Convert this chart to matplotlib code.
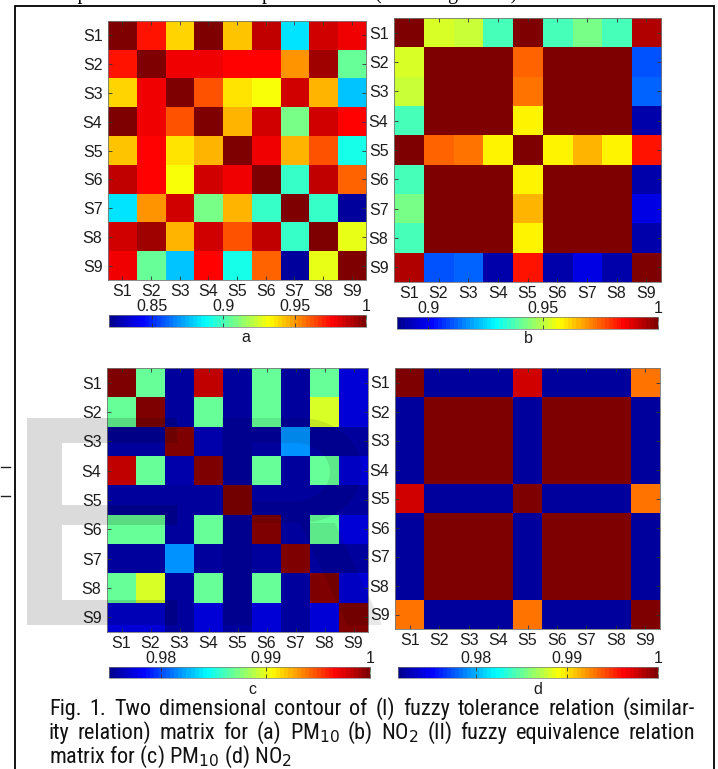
import numpy as np
import matplotlib
matplotlib.use('Agg')
import matplotlib.pyplot as plt
from matplotlib.colors import LinearSegmentedColormap
from matplotlib.patches import PathPatch, Rectangle
from matplotlib.path import Path
from matplotlib.lines import Line2D
from matplotlib import font_manager as fm

# ---------------- data ----------------
stations = ['S1', 'S2', 'S3', 'S4', 'S5', 'S6', 'S7', 'S8', 'S9']

# (a) fuzzy tolerance relation, PM10
tol_pm10 = [
    [1.000, 0.972, 0.940, 1.000, 0.943, 0.988, 0.883, 0.985, 0.978],
    [0.972, 1.000, 0.978, 0.978, 0.975, 0.975, 0.952, 0.993, 0.905],
    [0.940, 0.978, 1.000, 0.962, 0.936, 0.930, 0.984, 0.946, 0.878],
    [1.000, 0.978, 0.962, 1.000, 0.946, 0.984, 0.909, 0.985, 0.975],
    [0.943, 0.975, 0.936, 0.946, 1.000, 0.979, 0.945, 0.962, 0.893],
    [0.988, 0.975, 0.930, 0.984, 0.979, 1.000, 0.898, 0.988, 0.958],
    [0.883, 0.952, 0.984, 0.909, 0.945, 0.898, 1.000, 0.898, 0.824],
    [0.985, 0.993, 0.946, 0.985, 0.962, 0.988, 0.898, 1.000, 0.928],
    [0.978, 0.905, 0.878, 0.975, 0.893, 0.958, 0.824, 0.928, 1.000],
]

# (b) fuzzy tolerance relation, NO2
tol_no2 = [
    [1.000, 0.953, 0.951, 0.937, 1.000, 0.937, 0.943, 0.937, 0.993],
    [0.953, 1.000, 1.000, 1.000, 0.974, 1.000, 1.000, 1.000, 0.911],
    [0.951, 1.000, 1.000, 1.000, 0.973, 1.000, 1.000, 1.000, 0.912],
    [0.937, 1.000, 1.000, 1.000, 0.959, 1.000, 1.000, 1.000, 0.891],
    [1.000, 0.974, 0.973, 0.959, 1.000, 0.959, 0.966, 0.959, 0.984],
    [0.937, 1.000, 1.000, 1.000, 0.959, 1.000, 1.000, 1.000, 0.891],
    [0.943, 1.000, 1.000, 1.000, 0.966, 1.000, 1.000, 1.000, 0.898],
    [0.937, 1.000, 1.000, 1.000, 0.959, 1.000, 1.000, 1.000, 0.891],
    [0.993, 0.911, 0.912, 0.891, 0.984, 0.891, 0.898, 0.891, 1.000],
]

# (c) fuzzy equivalence relation, PM10
eq_pm10 = [
    [1.0000, 0.9870, 0.9757, 0.9983, 0.9757, 0.9870, 0.9757, 0.9870, 0.9773],
    [0.9870, 1.0000, 0.9757, 0.9870, 0.9757, 0.9870, 0.9757, 0.9895, 0.9773],
    [0.9757, 0.9757, 1.0000, 0.9760, 0.9757, 0.9757, 0.9820, 0.9757, 0.9757],
    [0.9983, 0.9870, 0.9760, 1.0000, 0.9757, 0.9870, 0.9757, 0.9870, 0.9773],
    [0.9757, 0.9757, 0.9757, 0.9757, 1.0000, 0.9757, 0.9757, 0.9757, 0.9757],
    [0.9870, 0.9870, 0.9757, 0.9870, 0.9757, 1.0000, 0.9757, 0.9870, 0.9773],
    [0.9757, 0.9757, 0.9820, 0.9757, 0.9757, 0.9757, 1.0000, 0.9757, 0.9757],
    [0.9870, 0.9895, 0.9757, 0.9870, 0.9757, 0.9870, 0.9757, 1.0000, 0.9773],
    [0.9773, 0.9773, 0.9757, 0.9773, 0.9757, 0.9773, 0.9757, 0.9773, 1.0000],
]

# (d) fuzzy equivalence relation, NO2
eq_no2 = [
    [1.0000, 0.9720, 0.9720, 0.9720, 0.9977, 0.9720, 0.9720, 0.9720, 0.9932],
    [0.9720, 1.0000, 1.0000, 1.0000, 0.9720, 1.0000, 1.0000, 1.0000, 0.9720],
    [0.9720, 1.0000, 1.0000, 1.0000, 0.9720, 1.0000, 1.0000, 1.0000, 0.9720],
    [0.9720, 1.0000, 1.0000, 1.0000, 0.9720, 1.0000, 1.0000, 1.0000, 0.9720],
    [0.9977, 0.9720, 0.9720, 0.9720, 1.0000, 0.9720, 0.9720, 0.9720, 0.9932],
    [0.9720, 1.0000, 1.0000, 1.0000, 0.9720, 1.0000, 1.0000, 1.0000, 0.9720],
    [0.9720, 1.0000, 1.0000, 1.0000, 0.9720, 1.0000, 1.0000, 1.0000, 0.9720],
    [0.9720, 1.0000, 1.0000, 1.0000, 0.9720, 1.0000, 1.0000, 1.0000, 0.9720],
    [0.9932, 0.9720, 0.9720, 0.9720, 0.9932, 0.9720, 0.9720, 0.9720, 1.0000],
]

color_ranges = [(0.820, 1.0), (0.8865, 1.0), (0.975, 1.0), (0.9715, 1.0)]
cbar_ticks = [[0.85, 0.9, 0.95, 1.0], [0.9, 0.95, 1.0], [0.98, 0.99, 1.0], [0.98, 0.99, 1.0]]
cbar_ticklabels = [['0.85', '0.9', '0.95', '1'], ['0.9', '0.95', '1'],
                   ['0.98', '0.99', '1'], ['0.98', '0.99', '1']]
panel_letters = ['a', 'b', 'c', 'd']

caption_lines = [
    "Fig. 1. Two dimensional contour of (I) fuzzy tolerance relation (similar-",
    r"ity relation) matrix for (a) PM$_\mathrm{10}$ (b) NO$_\mathrm{2}$ (II) fuzzy equivalence relation",
    r"matrix for (c) PM$_\mathrm{10}$ (d) NO$_\mathrm{2}$",
]

# ---------------- caption font: prefer a narrow sans ----------------
entries = fm.fontManager.ttflist


def _is_regular(f):
    return f.style == 'normal' and str(f.weight) in ('400', 'normal', 'regular', 'book')


chosen = None
for name in ['Liberation Sans Narrow', 'Arial Narrow', 'Nimbus Sans Narrow',
             'DejaVu Sans Condensed', 'Roboto Condensed', 'Noto Sans Condensed',
             'Open Sans Condensed']:
    for f in entries:
        if f.name == name and _is_regular(f):
            chosen = f
            break
    if chosen:
        break
if chosen is None:
    for f in entries:
        n = f.name.lower()
        if (f.stretch == 'condensed' and _is_regular(f) and 'sans' in n
                and 'mono' not in n and 'extra' not in f.fname.lower()
                and 'cjk' not in n):
            chosen = f
            break
if chosen is not None:
    cap_fp = fm.FontProperties(fname=chosen.fname)
    math_family = chosen.name
else:
    cap_fp = fm.FontProperties(family=['Liberation Sans', 'DejaVu Sans'])
    math_family = 'Liberation Sans'

# ---------------- figure ----------------
W, H = 718, 769
plt.rcParams['font.family'] = ['Liberation Sans', 'DejaVu Sans']
plt.rcParams['mathtext.fontset'] = 'custom'
plt.rcParams['mathtext.rm'] = math_family
plt.rcParams['mathtext.it'] = math_family + ':italic'
plt.rcParams['mathtext.bf'] = math_family + ':bold'

fig = plt.figure(figsize=(W / 100, H / 100), dpi=100)
fig.patch.set_facecolor('white')

jet = LinearSegmentedColormap.from_list(
    'matlab_jet',
    [(0.0, (0, 0, 0.5625)), (0.125, (0, 0, 1)), (0.375, (0, 1, 1)),
     (0.625, (1, 1, 0)), (0.875, (1, 0, 0)), (1.0, (0.5, 0, 0))], N=64)


def ax_px(x0, y0, x1, y1):
    return fig.add_axes([x0 / W, 1 - y1 / H, (x1 - x0) / W, (y1 - y0) / H])


heat_boxes = [(108, 21, 366, 280), (394, 18, 661, 282),
              (107, 368, 368, 632), (395, 368, 660, 629)]
cbar_boxes = [(109, 315, 366, 327), (397, 317, 658, 329),
              (109, 667, 370, 678), (398, 667, 658, 678)]
letter_pos = [(246, 338), (528, 339), (252, 689), (538, 689)]

matrices = [tol_pm10, tol_no2, eq_pm10, eq_no2]
txtcol = '#1c1c1c'

for i, M in enumerate(matrices):
    ax = ax_px(*heat_boxes[i])
    vmin, vmax = color_ranges[i]
    im = ax.imshow(np.array(M), cmap=jet, vmin=vmin, vmax=vmax,
                   aspect='auto', interpolation='nearest')
    ax.set_xticks(range(len(stations)))
    ax.set_yticks(range(len(stations)))
    ax.set_xticklabels(stations)
    ax.set_yticklabels(stations)
    ax.tick_params(direction='in', length=3, width=0.6, color='#333333',
                   top=True, right=True, labelsize=11.5, labelcolor=txtcol, pad=4)
    ax.tick_params(axis='x', pad=3)
    for s in ax.spines.values():
        s.set_linewidth(0.6)
        s.set_color('#777777')

    cax = ax_px(*cbar_boxes[i])
    cb = fig.colorbar(im, cax=cax, orientation='horizontal', ticks=cbar_ticks[i])
    cb.ax.set_xticklabels(cbar_ticklabels[i])
    cax.tick_params(axis='x', direction='in', length=3, width=0.6, color='#333333',
                    top=True, bottom=True, labeltop=True, labelbottom=False,
                    labelsize=11.5, labelcolor=txtcol, pad=0.5)
    cb.outline.set_linewidth(0.5)
    cb.outline.set_edgecolor('#777777')

    lx, ly = letter_pos[i]
    fig.text(lx / W, 1 - ly / H, panel_letters[i], ha='center', va='center',
             fontsize=11.5, color=txtcol)

# ---------------- caption (justified) ----------------
renderer = fig.canvas.get_renderer()
baselines = [715, 739, 763]
x_left, x_right = 49, 695


def word_widths(words, size):
    fp = cap_fp.copy()
    fp.set_size(size)
    out = []
    for w in words:
        t = fig.text(0, 0, w, fontproperties=fp)
        out.append(t.get_window_extent(renderer).width)
        t.remove()
    return out


# choose the largest size (up to 16pt) at which justified lines keep normal gaps
cap_size = 16.0
for line in caption_lines[:2]:
    words = line.split(' ')
    wsum = sum(word_widths(words, 10.0))
    min_gap = 5.0
    fit = 10.0 * (x_right - x_left - min_gap * (len(words) - 1)) / wsum
    cap_size = min(cap_size, fit)

fpc = cap_fp.copy()
fpc.set_size(cap_size)
for li, line in enumerate(caption_lines):
    yb = 1 - baselines[li] / H
    if li < 2:
        words = line.split(' ')
        tx = [fig.text(0, yb, w, ha='left', va='baseline', fontproperties=fpc,
                       color='#111111') for w in words]
        widths = [t.get_window_extent(renderer).width for t in tx]
        gap = (x_right - x_left - sum(widths)) / (len(words) - 1)
        x = x_left
        for t, wdt in zip(tx, widths):
            t.set_x(x / W)
            x += wdt + gap
    else:
        fig.text(x_left / W, yb, line, ha='left', va='baseline', fontproperties=fpc,
                 color='#111111')

# ---------------- page decorations ----------------
# frame around the figure
fig.add_artist(Rectangle((15 / W, -0.01), (714 - 15) / W, 1.01 - 6 / H,
                         transform=fig.transFigure, fill=False,
                         edgecolor='black', linewidth=1.3, zorder=10))

# cut-off running text above the frame
for xs, s in [(43, 'comparison of the'), (262, 'plots'),
              (375, '(on the right side)')]:
    fig.text(xs / W, 1 + 1.5 / H, s, ha='left', va='baseline', fontsize=14.4,
             family=['Liberation Serif', 'DejaVu Serif'], color='black')

# small marks left of the frame
for yy in (467, 496):
    fig.add_artist(Line2D([1 / W, 10 / W], [1 - yy / H, 1 - yy / H],
                          transform=fig.transFigure, color='#222222', lw=1.0))


# watermark (semi-transparent grey letters)
def P(x, y):
    return (x / W, 1 - y / H)


E_pts = [(27, 418), (177, 418), (177, 443), (62, 443), (62, 505), (177, 505),
         (177, 525), (62, 525), (62, 600), (177, 600), (177, 625), (27, 625), (27, 418)]
fig.add_artist(PathPatch(Path([P(*p) for p in E_pts]), transform=fig.transFigure,
                         facecolor='black', edgecolor='none', alpha=0.14, zorder=20))

theta = np.linspace(np.pi / 2, -np.pi / 2, 30)
outer = [(222, 418), (300, 418)] + \
        [(300 + 62 * np.cos(t), 470.5 - 52.5 * np.sin(t)) for t in theta] + \
        [(252, 523), (252, 625), (222, 625), (222, 418)]
hole = [(252, 443), (295, 443)] + \
       [(295 + 35 * np.cos(t), 472 - 29 * np.sin(t)) for t in theta] + \
       [(252, 501), (252, 443)]
leg = [(300, 523), (335, 523), (382, 625), (347, 625), (300, 523)]
verts = [P(*p) for p in outer] + [P(*p) for p in hole[::-1]]
codes = [Path.MOVETO] + [Path.LINETO] * (len(outer) - 2) + [Path.CLOSEPOLY] + \
        [Path.MOVETO] + [Path.LINETO] * (len(hole) - 2) + [Path.CLOSEPOLY]
fig.add_artist(PathPatch(Path(verts, codes), transform=fig.transFigure,
                         facecolor='black', edgecolor='none', alpha=0.09, zorder=20))
fig.add_artist(PathPatch(Path([P(*p) for p in leg]), transform=fig.transFigure,
                         facecolor='black', edgecolor='none', alpha=0.09, zorder=20))

fig.savefig('out.png', dpi=100, facecolor='white')
